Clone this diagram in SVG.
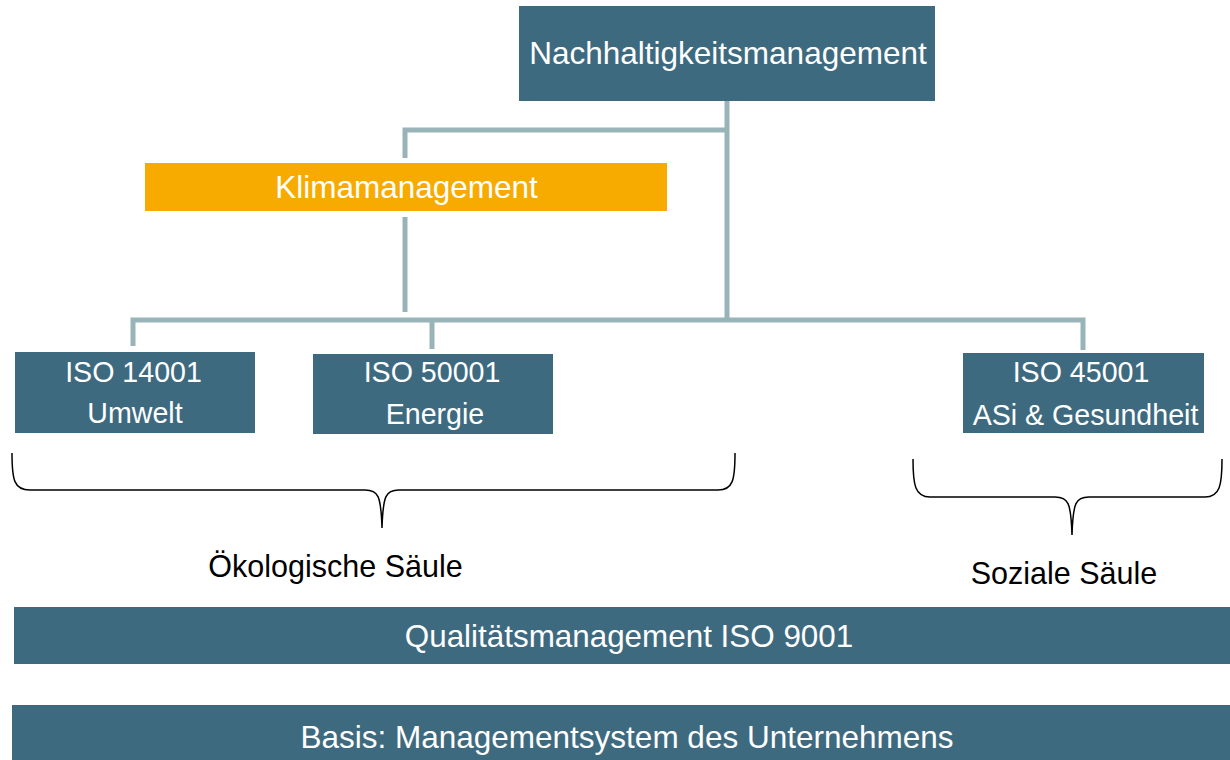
<svg xmlns="http://www.w3.org/2000/svg" width="1230" height="760" viewBox="0 0 1230 760">
<style>
.box{fill:#3e6a80}
.klima{fill:#f7ab00}
.wt{fill:#ffffff;font-family:"Liberation Sans",Arial,sans-serif;text-anchor:middle}
.bt{fill:#000000;font-family:"Liberation Sans",Arial,sans-serif;text-anchor:middle}
.con{stroke:#98b4b8;stroke-width:5;fill:none}
.brace{stroke:#000000;stroke-width:1.5;fill:none}
</style>
<rect width="1230" height="760" fill="#ffffff"/>
<g id="connectors">
<polyline class="con" points="405,158 405,130 727,130"/>
<line class="con" x1="727" y1="101" x2="727" y2="322"/>
<line class="con" x1="405" y1="217" x2="405" y2="312"/>
<polyline class="con" points="133,346 133,320 1083,320 1083,350"/>
<line class="con" x1="432" y1="320" x2="432" y2="349"/>
</g>
<g id="nachhaltigkeit">
<rect class="box" x="519" y="6" width="416" height="95"/>
<text class="wt" x="728" y="63.5" font-size="31.5">Nachhaltigkeitsmanagement</text>
</g>
<g id="klima">
<rect class="klima" x="145" y="163" width="522" height="48"/>
<text class="wt" x="406.5" y="198" font-size="31.5">Klimamanagement</text>
</g>
<g id="iso14001">
<rect class="box" x="15" y="352" width="240" height="81"/>
<text class="wt" x="133.5" y="381.5" font-size="28.6">ISO 14001</text>
<text class="wt" x="135" y="423" font-size="28.6">Umwelt</text>
</g>
<g id="iso50001">
<rect class="box" x="313" y="354" width="240" height="80"/>
<text class="wt" x="432" y="382" font-size="28.6">ISO 50001</text>
<text class="wt" x="435" y="424" font-size="28.6">Energie</text>
</g>
<g id="iso45001">
<rect class="box" x="963" y="353" width="241" height="80"/>
<text class="wt" x="1081" y="381.5" font-size="28.6">ISO 45001</text>
<text class="wt" x="1085.5" y="425" font-size="28.6">ASi &amp; Gesundheit</text>
</g>
<g id="oekologisch">
<path class="brace" d="M12,453 C12,480 14,490 30,490 L365,490 C378,490 381,495 382,528 C383,495 386,490 399,490 L718,490 C733,490 735,480 735,453"/>
<text class="bt" x="335.5" y="576.5" font-size="30.5">Ökologische Säule</text>
</g>
<g id="sozial">
<path class="brace" d="M913,459 C913,485 915,497 930,497 L1055,497 C1068,497 1071,502 1072,535 C1073,502 1076,497 1089,497 L1205,497 C1220,497 1222,485 1222,459"/>
<text class="bt" x="1064" y="584" font-size="30.5">Soziale Säule</text>
</g>
<g id="qualitaet">
<rect class="box" x="14" y="607" width="1216" height="57"/>
<text class="wt" x="629" y="646.5" font-size="31.4">Qualitätsmanagement ISO 9001</text>
</g>
<g id="basis">
<rect class="box" x="12" y="705" width="1218" height="55"/>
<text class="wt" x="627" y="748" font-size="31.5">Basis: Managementsystem des Unternehmens</text>
</g>
</svg>
